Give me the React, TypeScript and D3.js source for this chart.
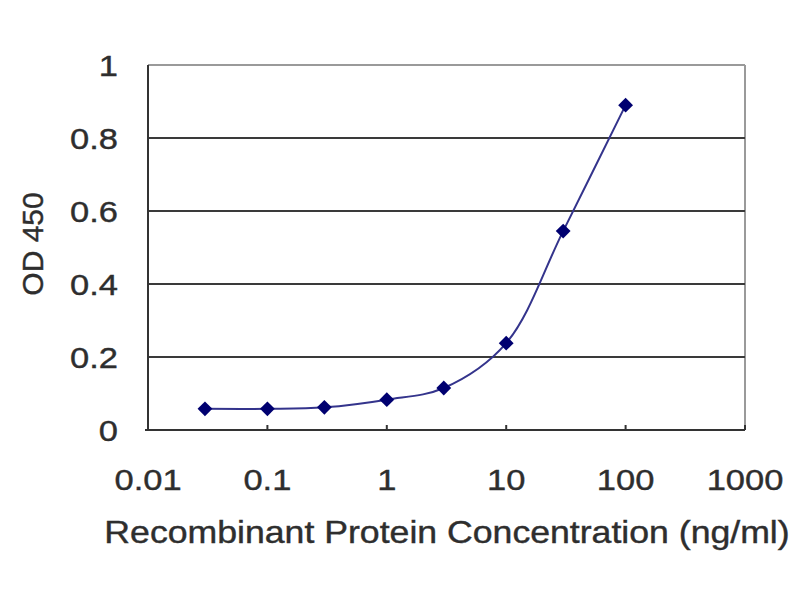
import React from 'react';
import * as d3 from 'd3';

// concentrations (ng/ml) and OD 450 readings
const concentrations = [0.03, 0.1, 0.3, 1, 3, 10, 30, 100];
const odValues = [0.058, 0.058, 0.062, 0.083, 0.115, 0.238, 0.545, 0.89];

const xTicks = [0.01, 0.1, 1, 10, 100, 1000];
const xTickLabels = ['0.01', '0.1', '1', '10', '100', '1000'];
const yTicks = [0, 0.2, 0.4, 0.6, 0.8, 1];
const yTickLabels = ['0', '0.2', '0.4', '0.6', '0.8', '1'];

const width = 800;
const height = 600;
const left = 148;
const right = 745;
const top = 65;
const bottom = 430;

// the original picture is stretched sideways a bit
const stretch = 1.15;
const font = 'Liberation Sans, Arial, sans-serif';
const textColor = '#2e2e2e';

const App: React.FC = () => {
  const x = d3.scaleLog().domain([0.01, 1000]).range([left, right]);
  const y = d3.scaleLinear().domain([0, 1]).range([bottom, top]);

  const points = concentrations.map((c, i) => [x(c), y(odValues[i])] as [number, number]);

  const line = d3.line<[number, number]>()
    .x(d => d[0])
    .y(d => d[1])
    .curve(d3.curveCatmullRom.alpha(0.5));

  const diamond = d3.symbol().type(d3.symbolDiamond2).size(140)();

  const textProps = {
    fontFamily: font,
    fontSize: 30,
    fill: textColor,
    stroke: textColor,
    strokeWidth: 0.4,
  };

  return (
    <svg
      width={width}
      height={height}
      style={{ position: 'absolute', left: 0, top: 0, background: '#fff' }}
    >
      {/* plot frame: top and right edges are lighter */}
      <line x1={left} x2={right} y1={top} y2={top} stroke="#9a9a9a" strokeWidth={2} />
      <line x1={right} x2={right} y1={top} y2={bottom} stroke="#9a9a9a" strokeWidth={2} />

      {/* horizontal gridlines */}
      {yTicks.filter(t => t > 0 && t < 1).map(t => (
        <line key={t} x1={left} x2={right} y1={y(t)} y2={y(t)} stroke="#3a3a3a" strokeWidth={2} />
      ))}

      {/* axes */}
      <line x1={left} x2={left} y1={top} y2={bottom} stroke="#333" strokeWidth={2} />
      <line x1={left - 3} x2={right} y1={bottom} y2={bottom} stroke="#333" strokeWidth={2} />

      {/* x tick marks */}
      {xTicks.map(t => (
        <line key={t} x1={x(t)} x2={x(t)} y1={bottom} y2={bottom - 5} stroke="#333" strokeWidth={2} />
      ))}

      {/* y tick labels */}
      {yTicks.map((t, i) => (
        <g key={t} transform={`translate(118,${y(t) + 11}) scale(${stretch},1)`}>
          <text textAnchor="end" {...textProps}>
            {yTickLabels[i]}
          </text>
        </g>
      ))}

      {/* x tick labels */}
      {xTicks.map((t, i) => (
        <g key={t} transform={`translate(${x(t)},490) scale(${stretch},1)`}>
          <text textAnchor="middle" {...textProps}>
            {xTickLabels[i]}
          </text>
        </g>
      ))}

      {/* data line and markers */}
      <path d={line(points) || ''} fill="none" stroke="#34348c" strokeWidth={2} />
      {points.map((p, i) => (
        <path key={i} d={diamond || ''} transform={`translate(${p[0]},${p[1]})`} fill="#000070" />
      ))}

      {/* axis titles */}
      <g transform={`translate(447,543) scale(${stretch},1)`}>
        <text textAnchor="middle" {...textProps} fontSize={31}>
          Recombinant Protein Concentration (ng/ml)
        </text>
      </g>
      <g transform="translate(43,244) rotate(-90)">
        <text textAnchor="middle" {...textProps}>
          OD 450
        </text>
      </g>
    </svg>
  );
};

export default App;
